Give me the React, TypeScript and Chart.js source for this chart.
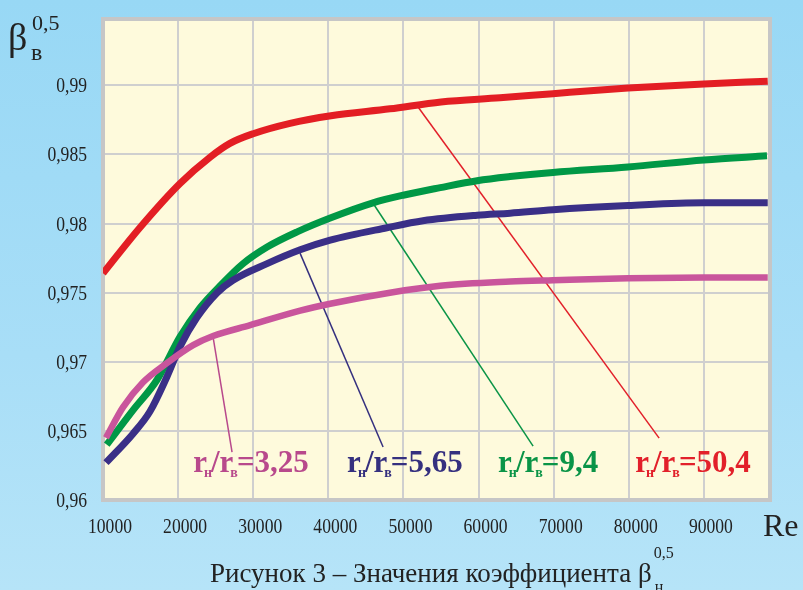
import React, { useEffect, useRef } from "react";
import { Chart, registerables } from "chart.js";
Chart.register(...registerables);

// ---- data ----
const xTickValues = [10000, 20000, 30000, 40000, 50000, 60000, 70000, 80000, 90000];
const xTickLabels = ["10000", "20000", "30000", "40000", "50000", "60000", "70000", "80000", "90000"];
const yTickValues = [0.96, 0.965, 0.97, 0.975, 0.98, 0.985, 0.99];
const yTickLabels = ["0,96", "0,965", "0,97", "0,975", "0,98", "0,985", "0,99"];

const reRed = [10000, 14900, 20250, 24250, 26900, 30000, 34900, 40350, 48200, 55000, 62850, 69900, 79900, 90000, 98500];
const betaRed = [0.9764, 0.9797, 0.9829, 0.9848, 0.9858, 0.9865, 0.98725, 0.9878, 0.9883, 0.9888, 0.9891, 0.9894, 0.9898, 0.9901, 0.9903];

const reGreen = [10500, 14000, 17200, 20250, 22900, 25600, 28650, 31850, 35850, 40250, 45950, 49950, 54900, 59800, 64200, 69900, 79900, 90000, 98400];
const betaGreen = [0.964, 0.9665, 0.9687, 0.9718, 0.9739, 0.9755, 0.9771, 0.9783, 0.9794, 0.9804, 0.9815, 0.98205, 0.9826, 0.9831, 0.9834, 0.9837, 0.9841, 0.9846, 0.9849];

const reNavy = [10400, 14000, 16250, 18500, 20250, 22500, 25200, 27300, 31850, 36250, 40250, 47800, 52600, 59800, 64200, 69900, 79900, 90000, 98500];
const betaNavy = [0.9627, 0.9648, 0.9664, 0.9689, 0.9711, 0.9732, 0.975, 0.9759, 0.9771, 0.9781, 0.9788, 0.9797, 0.9802, 0.9806, 0.98075, 0.981, 0.9813, 0.9815, 0.9815];

const rePink = [10400, 12650, 15300, 18500, 22000, 24650, 29600, 36250, 40250, 48200, 54900, 64200, 69900, 79900, 90000, 98500];
const betaPink = [0.9645, 0.9667, 0.9685, 0.9699, 0.9712, 0.97186, 0.97265, 0.9737, 0.9742, 0.975, 0.9755, 0.9758, 0.9759, 0.97605, 0.9761, 0.9761];

const seriesColors = ["#E31E24", "#009846", "#3A2F87", "#C9559C"];
const labelColors = ["#E2202A", "#0A9447", "#35307F", "#B8498C"];

// annotation labels: r_н/r_в = value
const labelValues = ["50,4", "9,4", "5,65", "3,25"];
const labelRe = [80850, 62600, 42500, 22000];
const labelBeta = [0.962, 0.962, 0.962, 0.962];
// leader lines (start on curve -> end near label)
const leaderStartRe = [51680, 45950, 36230, 24650];
const leaderStartBeta = [0.98863, 0.98147, 0.97786, 0.9718];
const leaderEndRe = [84040, 67260, 47290, 27180];
const leaderEndBeta = [0.96448, 0.9639, 0.96383, 0.96347];

const toPts = (xs: number[], ys: number[]) => xs.map((x, i) => ({ x, y: ys[i] }));

const SERIF = "'Liberation Serif', 'Times New Roman', serif";

function condensedText(ctx: CanvasRenderingContext2D, text: string, x: number, y: number, align: CanvasTextAlign, sx: number) {
  ctx.save();
  ctx.translate(x, y);
  ctx.scale(sx, 1);
  ctx.textAlign = align;
  ctx.fillText(text, 0, 0);
  ctx.restore();
}

const decor = {
  id: "decor",
  beforeDraw(chart: any) {
    const { ctx, chartArea: a } = chart;
    ctx.save();
    ctx.fillStyle = "#FEFADC";
    ctx.fillRect(a.left, a.top, a.right - a.left, a.bottom - a.top);
    ctx.restore();
  },
  beforeDatasetsDraw(chart: any) {
    const { ctx, chartArea: a, scales } = chart;
    ctx.save();
    ctx.strokeStyle = "#C6C6C6";
    ctx.lineWidth = 4;
    ctx.strokeRect(a.left, a.top, a.right - a.left, a.bottom - a.top);
    ctx.lineWidth = 1.5;
    for (let i = 0; i < leaderStartRe.length; i++) {
      ctx.strokeStyle = labelColors[i];
      ctx.beginPath();
      ctx.moveTo(scales.x.getPixelForValue(leaderStartRe[i]), scales.y.getPixelForValue(leaderStartBeta[i]));
      ctx.lineTo(scales.x.getPixelForValue(leaderEndRe[i]), scales.y.getPixelForValue(leaderEndBeta[i]));
      ctx.stroke();
    }
    ctx.restore();
  },
  afterDraw(chart: any) {
    const { ctx, chartArea: a, scales } = chart;
    ctx.save();
    ctx.fillStyle = "#222";
    ctx.textBaseline = "alphabetic";
    ctx.font = `22px ${SERIF}`;
    yTickValues.forEach((v, i) => {
      condensedText(ctx, yTickLabels[i], a.left - 16, scales.y.getPixelForValue(v) + 7, "right", 0.8);
    });
    xTickValues.forEach((v, i) => {
      condensedText(ctx, xTickLabels[i], scales.x.getPixelForValue(v) + 7, a.bottom + 33, "center", 0.8);
    });
    // axis titles
    ctx.textAlign = "left";
    ctx.font = `38px ${SERIF}`;
    ctx.fillText("β", 8, 50);
    ctx.font = `22px ${SERIF}`;
    ctx.fillText("0,5", 32, 30);
    ctx.font = `24px ${SERIF}`;
    ctx.fillText("в", 31, 60);
    ctx.font = `32px ${SERIF}`;
    ctx.fillText("Re", 763, 536);
    // caption
    ctx.font = `27px ${SERIF}`;
    const cap = "Рисунок 3 – Значения коэффициента β";
    ctx.fillText(cap, 210, 582);
    const cw = ctx.measureText(cap).width;
    ctx.font = `16px ${SERIF}`;
    ctx.fillText("0,5", 210 + cw + 2, 558);
    ctx.fillText("н", 210 + cw + 3, 592);
    // series labels
    for (let i = 0; i < labelValues.length; i++) {
      let x = scales.x.getPixelForValue(labelRe[i]);
      const y = scales.y.getPixelForValue(labelBeta[i]);
      ctx.fillStyle = labelColors[i];
      const big = `bold 31px ${SERIF}`;
      const small = `bold 14px ${SERIF}`;
      const parts: [string, boolean][] = [["r", false], ["н", true], ["/", false], ["r", false], ["в", true], ["=" + labelValues[i], false]];
      for (const [t, sub] of parts) {
        ctx.font = sub ? small : big;
        if (sub) {
          x -= 3;
          ctx.fillText(t, x, y + 5);
          x += ctx.measureText(t).width - 1;
        } else {
          ctx.fillText(t, x, y);
          x += ctx.measureText(t).width;
        }
      }
    }
    ctx.restore();
  },
};

export default function App() {
  const ref = useRef<HTMLCanvasElement>(null);
  useEffect(() => {
    const c = ref.current!;
    const mk = (label: string, xs: number[], ys: number[], color: string, w: number) => ({
      label,
      data: toPts(xs, ys),
      borderColor: color,
      backgroundColor: color,
      borderWidth: w,
      pointRadius: 0,
      fill: false,
      cubicInterpolationMode: "monotone" as const,
      borderCapStyle: "butt" as const,
    });
    const chart = new Chart(c, {
      type: "line",
      data: {
        datasets: [
          mk("3,25", rePink, betaPink, seriesColors[3], 6.5),
          mk("5,65", reNavy, betaNavy, seriesColors[2], 7),
          mk("9,4", reGreen, betaGreen, seriesColors[1], 7),
          mk("50,4", reRed, betaRed, seriesColors[0], 7),
        ],
      },
      options: {
        responsive: false,
        animation: false,
        layout: { padding: { left: 0, right: 33, top: 19, bottom: 0 } },
        plugins: { legend: { display: false }, tooltip: { enabled: false } },
        scales: {
          x: {
            type: "linear",
            min: 10000,
            max: 98800,
            afterBuildTicks: (s: any) => { s.ticks = xTickValues.map((v) => ({ value: v })); },
            afterFit: (s: any) => { s.height = 90; },
            ticks: { display: false },
            grid: { color: "#CFCFCF", lineWidth: 2, drawTicks: false },
            border: { display: false },
          },
          y: {
            type: "linear",
            min: 0.96,
            max: 0.9948,
            afterBuildTicks: (s: any) => { s.ticks = yTickValues.map((v) => ({ value: v })); },
            afterFit: (s: any) => { s.width = 103; },
            ticks: { display: false },
            grid: { color: "#CFCFCF", lineWidth: 2, drawTicks: false },
            border: { display: false },
          },
        },
      },
      plugins: [decor],
    });
    return () => chart.destroy();
  }, []);
  return (
    <div
      style={{
        position: "fixed",
        left: 0,
        top: 0,
        width: 803,
        height: 590,
        background: "linear-gradient(180deg, #98D8F5 0%, #A8DEF7 60%, #B6E4F8 100%)",
      }}
    >
      <canvas ref={ref} width={803} height={590} style={{ display: "block", width: 803, height: 590 }} />
    </div>
  );
}
